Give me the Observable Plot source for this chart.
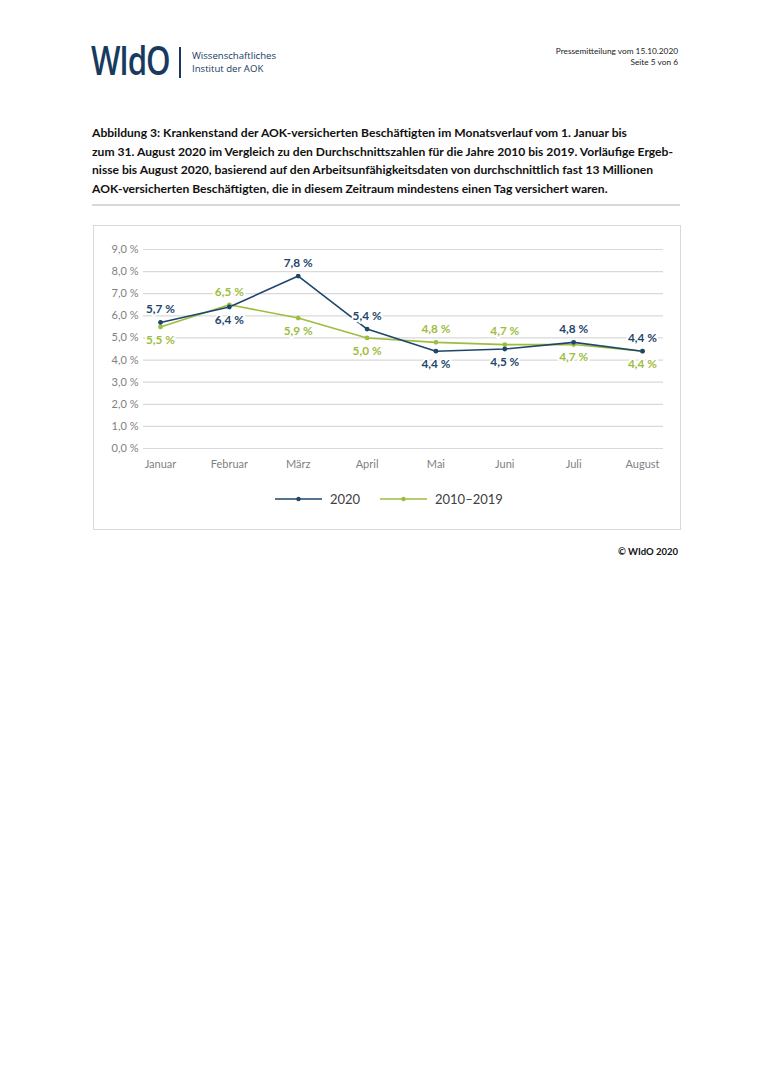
<!DOCTYPE html>
<html><head><meta charset="utf-8">
<script src="https://cdn.jsdelivr.net/npm/d3@7"></script>
<script src="https://cdn.jsdelivr.net/npm/@observablehq/plot@0.6"></script>
<style>
body{margin:0;background:#fff;width:770px;height:1088px;position:relative;font-family:Lato,"Open Sans",sans-serif;overflow:hidden}
.abs{position:absolute}
#logo{left:91px;top:36px;font-family:"Open Sans";font-weight:600;font-size:40px;color:#173a5e;letter-spacing:-1.5px;transform:scaleX(0.78);transform-origin:left top;line-height:48px}
#bar{left:179px;top:47px;width:2px;height:31px;background:#173a5e}
#inst{left:192px;top:49px;font-family:"Open Sans";font-size:9.6px;line-height:13px;color:#173a5e}
#press{right:92px;top:46px;text-align:right;font-size:8.3px;line-height:11px;color:#222}
#title{left:92px;top:124px;font-weight:bold;font-size:12.1px;line-height:18.5px;color:#111;white-space:nowrap}
#sep{left:92px;top:204px;width:588px;height:2px;background:#d8d8d8}
#box{left:93px;top:225px;width:586px;height:303px;border:1px solid #d9d9d9}
#legend{left:93px;top:489px;width:588px;height:20px}
#copy{right:92px;top:546px;font-weight:bold;font-size:9.5px;color:#111}
</style></head>
<body>
<div class="abs" id="logo">WIdO</div>
<div class="abs" id="bar"></div>
<div class="abs" id="inst">Wissenschaftliches<br>Institut der AOK</div>
<div class="abs" id="press">Pressemitteilung vom 15.10.2020<br>Seite 5 von 6</div>
<div class="abs" id="title">Abbildung 3: Krankenstand der AOK-versicherten Beschäftigten im Monatsverlauf vom 1. Januar bis<br>zum 31. August 2020 im Vergleich zu den Durchschnittszahlen für die Jahre 2010 bis 2019. Vorläufige Ergeb-<br>nisse bis August 2020, basierend auf den Arbeitsunfähigkeitsdaten von durchschnittlich fast 13 Millionen<br>AOK-versicherten Beschäftigten, die in diesem Zeitraum mindestens einen Tag versichert waren.</div>
<div class="abs" id="sep"></div>
<div class="abs" id="box"></div>
<div class="abs" id="chart" style="left:93px;top:225px"></div>
<div class="abs" id="legend"></div>
<div class="abs" id="copy">© WIdO 2020</div>
<script>
const months = ["Januar","Februar","März","April","Mai","Juni","Juli","August"];
const values2020 = [5.7, 6.4, 7.8, 5.4, 4.4, 4.5, 4.8, 4.4];
const valuesAvg = [5.5, 6.5, 5.9, 5.0, 4.8, 4.7, 4.7, 4.4];
const seriesNames = ["2020", "2010–2019"];
const yTicks = [0,1,2,3,4,5,6,7,8,9];

const navy = "#1e466b", green = "#9dbd3e";
const fmt = v => v.toFixed(1).replace(".", ",") + " %";

const rows = [];
months.forEach((m, i) => {
  const a = values2020[i], b = valuesAvg[i];
  rows.push({month: m, value: a, series: seriesNames[0], above: a >= b});
  rows.push({month: m, value: b, series: seriesNames[1], above: b > a});
});
const s1 = rows.filter(d => d.series === seriesNames[0]);
const s2 = rows.filter(d => d.series === seriesNames[1]);

const labelMark = (data, color, above) => Plot.text(data.filter(d => d.above === above), {
  x: "month", y: "value", text: d => fmt(d.value), dy: above ? -13 : 13,
  fill: color, stroke: "white", strokeWidth: 4, paintOrder: "stroke",
  fontWeight: "bold", fontSize: 11.8
});

const chart = Plot.plot({
  width: 587, height: 304,
  marginLeft: 50, marginRight: 17, marginTop: 24, marginBottom: 81,
  style: {fontFamily: "Lato, 'Open Sans', sans-serif", background: "transparent", overflow: "visible"},
  x: {type: "point", domain: months, range: [67, 549], padding: 0, round: false, label: null},
  y: {domain: [0, 9], label: null},
  marks: [
    Plot.ruleY(yTicks, {stroke: "#d9d9d9", strokeWidth: 1.2}),
    Plot.axisY(yTicks, {tickSize: 0, tickPadding: 5, tickFormat: fmt, fill: "#7f7f7f", fontSize: 11}),
    Plot.axisX({tickSize: 0, tickPadding: 12, fill: "#7f7f7f", fontSize: 11}),
    Plot.line(s2, {x: "month", y: "value", stroke: green, strokeWidth: 1.6}),
    Plot.line(s1, {x: "month", y: "value", stroke: navy, strokeWidth: 1.6}),
    Plot.dot(s2, {x: "month", y: "value", fill: green, r: 2.4}),
    Plot.dot(s1, {x: "month", y: "value", fill: navy, r: 2.4}),
    labelMark(s1, navy, true), labelMark(s1, navy, false),
    labelMark(s2, green, true), labelMark(s2, green, false)
  ]
});
document.getElementById("chart").appendChild(chart);

// legend
const leg = d3.select("#legend").append("svg").attr("width", 588).attr("height", 20);
const items = [{name: seriesNames[0], color: navy, x: 182}, {name: seriesNames[1], color: green, x: 287}];
items.forEach(it => {
  leg.append("line").attr("x1", it.x).attr("x2", it.x + 47).attr("y1", 10).attr("y2", 10).attr("stroke", it.color).attr("stroke-width", 1.6);
  leg.append("circle").attr("cx", it.x + 23.5).attr("cy", 10).attr("r", 2.2).attr("fill", it.color);
  leg.append("text").attr("x", it.x + 55).attr("y", 14.5).attr("font-size", 13).attr("fill", "#404040").attr("font-family", "Lato, sans-serif").text(it.name);
});
</script>
</body></html>
